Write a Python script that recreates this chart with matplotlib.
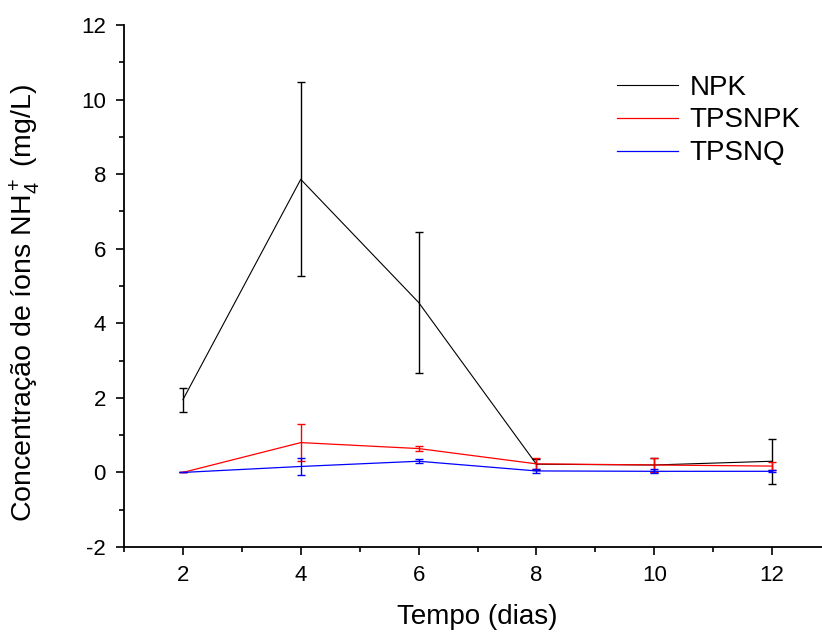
import matplotlib.pyplot as plt
from matplotlib.ticker import MultipleLocator

plt.rcParams['font.family'] = ['Liberation Sans', 'DejaVu Sans']
plt.rcParams['mathtext.fontset'] = 'custom'
plt.rcParams['mathtext.rm'] = 'Liberation Sans'
plt.rcParams['mathtext.it'] = 'Liberation Sans'
plt.rcParams['axes.unicode_minus'] = False

dias = [2, 4, 6, 8, 10, 12]

npk = [1.95, 7.86, 4.56, 0.22, 0.20, 0.30]
npk_err = [0.32, 2.6, 1.88, 0.15, 0.2, 0.6]

tpsnpk = [0.0, 0.80, 0.64, 0.23, 0.20, 0.17]
tpsnpk_err = [0.0, 0.5, 0.07, 0.15, 0.2, 0.1]

tpsnq = [0.0, 0.16, 0.30, 0.04, 0.03, 0.03]
tpsnq_err = [0.0, 0.23, 0.05, 0.05, 0.05, 0.03]

fig = plt.figure(figsize=(8.22, 6.33), dpi=100)
ax = fig.add_axes([124 / 822, 1 - 547 / 633, 707 / 822, 522 / 633])

ax.errorbar(dias, npk, yerr=npk_err, color='black', lw=0.8, elinewidth=1.0,
            capsize=3, capthick=1.0, label='NPK')
ax.errorbar(dias, tpsnpk, yerr=tpsnpk_err, color='red', lw=0.9, elinewidth=1.0,
            capsize=3, capthick=1.0, label='TPSNPK')
ax.errorbar(dias, tpsnq, yerr=tpsnq_err, color='blue', lw=0.9, elinewidth=1.0,
            capsize=3, capthick=1.0, label='TPSNQ')

ax.set_xlim(1, 13)
ax.set_ylim(-2, 12)
ax.xaxis.set_major_locator(MultipleLocator(2))
ax.xaxis.set_minor_locator(MultipleLocator(1))
ax.yaxis.set_major_locator(MultipleLocator(2))
ax.yaxis.set_minor_locator(MultipleLocator(1))
ax.tick_params(which='major', direction='out', length=6, width=1.2, labelsize=16, pad=7)
ax.tick_params(which='minor', direction='out', length=3.5, width=1.2)

ax.spines['top'].set_visible(False)
ax.spines['right'].set_visible(False)
ax.spines['left'].set_linewidth(1.3)
ax.spines['bottom'].set_linewidth(1.3)

ax.set_xlabel('Tempo (dias)', fontsize=20, labelpad=13)
ax.set_ylabel('Concentração de íons NH$_4^+$ (mg/L)', fontsize=20.5)
ax.yaxis.set_label_coords(-0.116, 0.467)

handles, labels = ax.get_legend_handles_labels()
handles = [h[0] for h in handles]
ax.legend(handles, labels, loc='upper left', bbox_to_anchor=(0.662, 0.953),
          frameon=False, fontsize=20, handlelength=2.2, handletextpad=0.4,
          labelspacing=0.25)

fig.savefig('out.png', dpi=100)
